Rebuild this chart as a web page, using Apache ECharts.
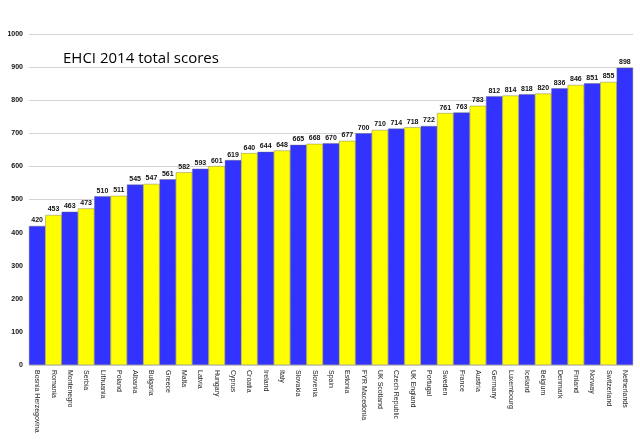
<!DOCTYPE html>
<html>
<head>
<meta charset="utf-8">
<script src="https://cdn.jsdelivr.net/npm/echarts@6/dist/echarts.min.js"></script>
<style>html,body{margin:0;padding:0;background:#fff}#c{width:640px;height:444px}</style>
</head>
<body>
<div id="c"></div>
<script>
const categories = ["Bosnia Herzegovina","Romania","Montenegro","Serbia","Lithuania","Poland","Albania","Bulgaria","Greece","Malta","Latvia","Hungary","Cyprus","Croatia","Ireland","Italy","Slovakia","Slovenia","Spain","Estonia","FYR Macedonia","UK Scotland","Czech Republic","UK England","Portugal","Sweden","France","Austria","Germany","Luxembourg","Iceland","Belgium","Denmark","Finland","Norway","Switzerland","Netherlands"];
const scores = [420,453,463,473,510,511,545,547,561,582,593,601,619,640,644,648,665,668,670,677,700,710,714,718,722,761,763,783,812,814,818,820,836,846,851,855,898];
const barColors = ["#3333FF","#FFFF00"];
const chartTitle = "EHCI 2014 total scores";

const chart = echarts.init(document.getElementById('c'));
chart.setOption({
  animation: false,
  title: {
    text: chartTitle,
    left: 58, top: 46,
    textStyle: {fontFamily: "Open Sans", fontSize: 15, fontWeight: 500, color: '#000'}
  },
  grid: {left: 29, right: 7, top: 34, bottom: 79, containLabel: false},
  xAxis: {
    type: 'category',
    data: categories,
    axisTick: {show: false},
    axisLine: {show: false},
    axisLabel: {
      rotate: -90, interval: 0, fontSize: 7, color: '#222',
      fontFamily: 'Liberation Sans', margin: 5
    }
  },
  yAxis: {
    type: 'value', min: 0, max: 1000, interval: 100,
    axisLabel: {fontSize: 7, color: '#111', fontWeight: 'bold', fontFamily: 'Liberation Sans', margin: 6,
      formatter: v => String(v)},
    splitLine: {show: true, lineStyle: {color: '#d4d4d4', width: 1}},
    axisLine: {show: false}, axisTick: {show: false}
  },
  series: [{
    type: 'bar',
    data: scores.map((v, i) => ({value: v, itemStyle: {color: barColors[i % 2]}})),
    barCategoryGap: '0%',
    itemStyle: {borderColor: '#666', borderWidth: 0.4},
    label: {
      show: true, position: 'top', distance: 2,
      fontSize: 7, fontWeight: 'bold', color: '#111', fontFamily: 'Liberation Sans'
    }
  }]
});
</script>
</body>
</html>
